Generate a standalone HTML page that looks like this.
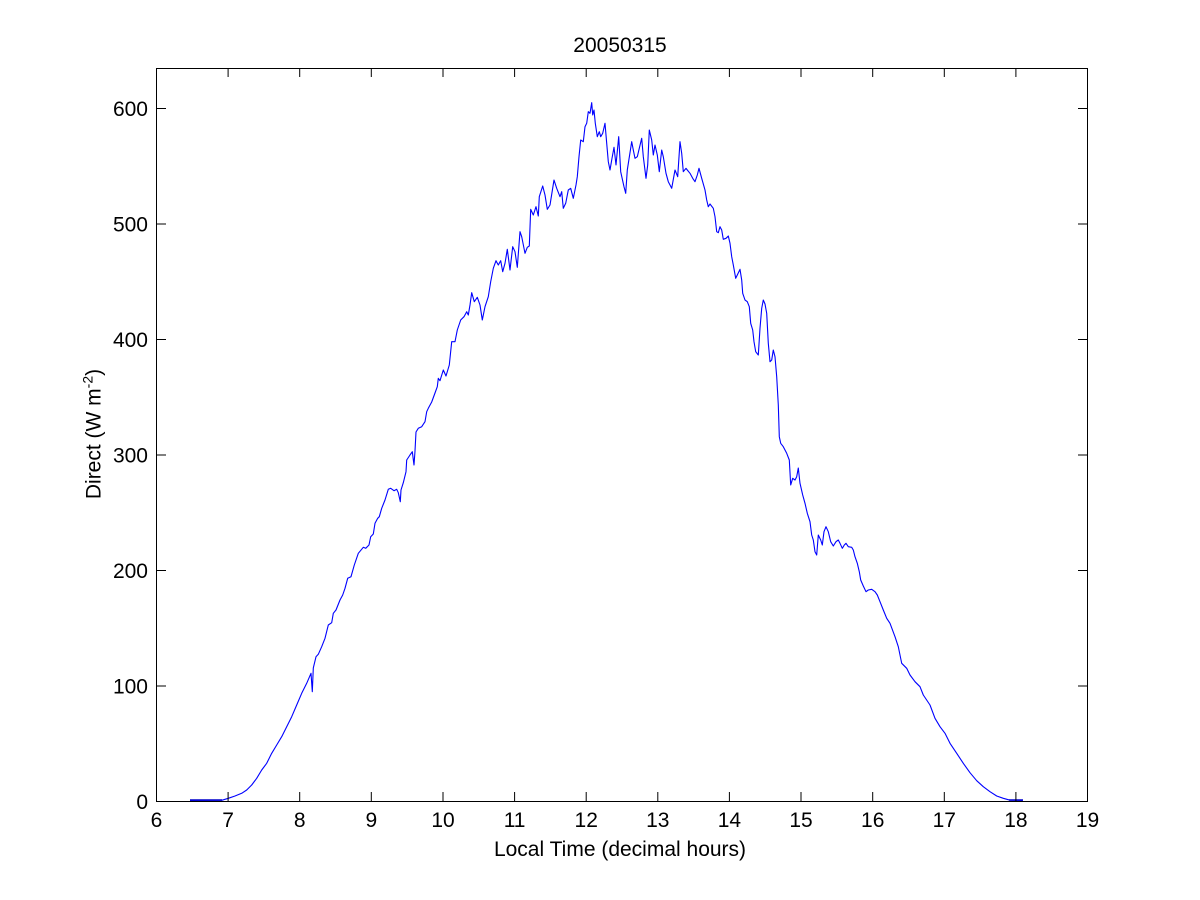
<!DOCTYPE html>
<html>
<head>
<meta charset="utf-8">
<style>
  html, body { margin: 0; padding: 0; background: #ffffff; }
  svg { display: block; }
  text { font-family: "Liberation Sans", Arial, sans-serif; fill: #000; }
</style>
</head>
<body>
<svg width="1200" height="900" viewBox="0 0 1200 900" xmlns="http://www.w3.org/2000/svg">
  <rect x="0" y="0" width="1200" height="900" fill="#ffffff"/>

  <!-- data line -->
  <polyline fill="none" stroke="#0000ff" stroke-width="1.1" stroke-linejoin="round" points="
190,800.5 221.7,800.3 228.3,798.3 235,796 241.7,793.3 246.7,790 251.7,785 256.7,778.3 261.7,770 266.7,763.3 271.7,753.3 276.7,745 281.7,736.7 286.7,726.7 291.7,716.7 296.7,705 301.7,693.3 306.7,683.3 311,673.3 312.3,691.7 313.3,668 316,656.7 318.3,654.3 321.7,646.7 325,638.3 328.3,625 331.7,622.7 333.3,613.3 336,610 340,600 342.7,595 345,588.3 347.7,578.3 351,576.7 354.3,565 358.3,553.3 363.3,547.3 365.7,548.3 369,545 370.7,536.7 373.3,534 375,523.3 377.7,518.3 379.3,516.7 381.7,508.3 385,500 388.3,489.3 390.7,488.3 394,490.7 396.7,489.3 398.3,492.7 400.3,501.7 401,490 403.3,482.7 406,471.7 406.7,460 410,455 412.3,451.7 414,465 415,451 416,432 418.3,428.3 421.7,426.7 425,421.7 426.7,411.7 428.3,408.3 431.7,402 435,393 437.3,386.7 438.3,378.3 440,380.7 443.3,370 446,376 449.3,365 451.7,341.7 455,341.7 457.3,330 460.7,320 464,316.7 466.7,311.7 468.3,315 470,305 471.7,292.7 474.3,301.7 477.3,297.3 480,305 482.3,320 485,306.7 488.3,296.7 490.7,281.7 493.3,268.3 496,260.7 498.3,265 500.7,260.7 502.7,271.7 505,263.3 507.3,249.3 510,270 512.7,246.7 515,251.7 517.3,267.3 520,231.7 521.7,236.7 525,253.3 527.3,247.3 529.3,246 530.7,209.3 533.3,215 536,206.7 538.3,216 539.3,196.7 542.7,186 545,195 547.3,209.3 550,205 554,180 556.7,188.3 560,196.7 561.7,191.7 563.3,208.3 565.7,203.3 568.3,190 570.7,188.3 573.3,198.3 576,185 577.3,176.7 579,156.7 580.7,140 583.3,141.7 585,126.7 586.7,123.3 588.3,111.7 590,113.3 591.7,102.7 592.7,115 594,110 595.3,123.3 597.3,136.7 599.3,131.7 600.7,136.7 602.7,133.3 605,123.3 606.7,143.3 608.3,161.7 610,170 612,158.3 614,147.3 616,165 618.7,136.7 620.7,171.7 624,186.7 625.7,193.3 627.3,170 631.7,141.7 633.3,150 635,158.3 637.3,156.7 639.3,148.3 641.7,138.3 643.3,156.7 646,178.3 647.7,165 649.3,130 651.7,140 653.3,155 655,145 657.3,155 659.3,171.7 661.7,150 663.3,156.7 666,173.3 668.3,181.7 671.7,188.3 675,170 677.7,176.7 680,141.7 681.7,153.3 683.3,171.7 686,168.3 687.3,170 690,173.3 692.7,178.3 695,181.7 697.3,175 699,168.3 701.7,178.3 705,190 706.7,200 708.3,206.7 710,204 713.3,208.3 715,216.7 716.7,231.7 718.3,232.7 720,226.7 721.7,230 723.3,239.3 726,238.3 728.3,236 730,243.3 731.7,256.7 733.3,265 735.7,278.3 737.3,275 740,269.3 741.7,280 742.7,293.3 745,300 747.3,301.7 749.3,306.7 750.7,323.3 752.7,330 754,341.7 755.7,351.7 758.3,355 760,328.3 761.7,308.3 763.3,300 765,304 766.7,313.3 768.3,343.3 770,361.7 771.7,360 773.3,350 775,356.7 776.7,376.7 778.3,405 779.3,436.7 780.7,443.3 783.3,446.7 786.7,453.3 789.3,460 790.7,485 792.7,478.3 795,480 796.7,476.7 798.3,468 800,483.3 802.7,495 805,503.3 807.3,513.3 810,521.7 811.7,535 813.3,540 815,551.7 816.7,555 818.3,535 820.7,540 822.3,545 824,531.7 826,526.7 828.3,531.7 830.7,541.7 833.3,546 836,541.7 838.3,540 840,543.3 842.3,548.3 844.3,545 846,543.3 848.3,546.7 851.7,547.3 853.3,550 855,556.7 857.3,563.3 859.3,571.7 860.7,580 863.3,586 866,591.7 868.3,590 871.7,589.3 875,591.7 877.3,595 880,601.7 883.3,610 886.7,618.3 890,623.3 895,636.7 898.3,646.7 901.7,663.3 906.7,668.3 910,675 915,681.7 920,686.7 923.3,695 930,705 935,718.3 940,726.7 945,733.3 950,743.3 956.7,753.3 963.3,763.3 970,772.7 976.7,780.7 983.3,786.7 990,791.7 996.7,796 1003.3,798.3 1010,800.2 1022.7,800.5"/>
  <!-- thick flat segments near zero -->
  <line x1="190" y1="800" x2="222" y2="800" stroke="#0000cc" stroke-width="1.5"/>
  <line x1="1009" y1="800" x2="1023" y2="800" stroke="#0000cc" stroke-width="1.5"/>

  <!-- axes box -->
  <rect x="156.5" y="68.5" width="931" height="733" fill="none" stroke="#000" stroke-width="1"/>

  <!-- x ticks -->
  <g stroke="#000" stroke-width="1">
    <path d="M156.5,801 V792 M156.5,68 V77
             M228.1,801 V792 M228.1,68 V77
             M299.7,801 V792 M299.7,68 V77
             M371.3,801 V792 M371.3,68 V77
             M443,801 V792 M443,68 V77
             M514.6,801 V792 M514.6,68 V77
             M586.2,801 V792 M586.2,68 V77
             M657.8,801 V792 M657.8,68 V77
             M729.4,801 V792 M729.4,68 V77
             M801,801 V792 M801,68 V77
             M872.7,801 V792 M872.7,68 V77
             M944.3,801 V792 M944.3,68 V77
             M1015.9,801 V792 M1015.9,68 V77
             M1087.5,801 V792 M1087.5,68 V77"/>
    <!-- y ticks -->
    <path d="M156,801.5 H166 M1087,801.5 H1078
             M156,686 H166 M1087,686 H1078
             M156,570.5 H166 M1087,570.5 H1078
             M156,455 H166 M1087,455 H1078
             M156,339.5 H166 M1087,339.5 H1078
             M156,224 H166 M1087,224 H1078
             M156,108.5 H166 M1087,108.5 H1078"/>
  </g>

  <!-- x tick labels -->
  <g font-size="21" text-anchor="middle">
    <text x="156.5" y="827">6</text>
    <text x="228.1" y="827">7</text>
    <text x="299.7" y="827">8</text>
    <text x="371.3" y="827">9</text>
    <text x="443" y="827">10</text>
    <text x="514.6" y="827">11</text>
    <text x="586.2" y="827">12</text>
    <text x="657.8" y="827">13</text>
    <text x="729.4" y="827">14</text>
    <text x="801" y="827">15</text>
    <text x="872.7" y="827">16</text>
    <text x="944.3" y="827">17</text>
    <text x="1015.9" y="827">18</text>
    <text x="1087.5" y="827">19</text>
  </g>

  <!-- y tick labels -->
  <g font-size="21" text-anchor="end">
    <text x="148" y="809">0</text>
    <text x="148" y="693.5">100</text>
    <text x="148" y="578">200</text>
    <text x="148" y="462.5">300</text>
    <text x="148" y="347">400</text>
    <text x="148" y="231.5">500</text>
    <text x="148" y="116">600</text>
  </g>

  <!-- title -->
  <text x="620" y="52" font-size="21" text-anchor="middle">20050315</text>

  <!-- x label -->
  <text x="620" y="856" font-size="21" text-anchor="middle">Local Time (decimal hours)</text>

  <!-- y label -->
  <text transform="translate(100.5,434) rotate(-90)" font-size="21" text-anchor="middle">Direct (W m<tspan font-size="14" dy="-8">-2</tspan><tspan dy="8">)</tspan></text>
</svg>
</body>
</html>
